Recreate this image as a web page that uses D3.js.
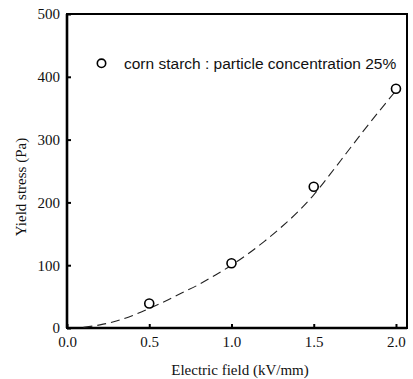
<!DOCTYPE html>
<html>
<head>
<meta charset="utf-8">
<script src="https://cdn.jsdelivr.net/npm/d3@7"></script>
<style>
  html, body { margin: 0; padding: 0; background: #fff; }
  svg { display: block; }
</style>
</head>
<body>
<svg id="chart" width="413" height="379"></svg>
<script>
// Measured yield stress of corn starch suspension (25% particles)
const fieldValues = [0.5, 1.0, 1.5, 2.0];          // kV/mm
const stressValues = [39, 103, 225, 381];          // Pa

// Fitted trend curve samples
const fitField = [0.1, 0.2, 0.3, 0.4, 0.5, 0.6, 0.7, 0.8, 0.9, 1.0, 1.1, 1.2, 1.3, 1.4, 1.5, 1.6, 1.7, 1.8, 1.9, 2.0];
const fitStress = [1, 5, 11, 20, 31, 43, 56, 69, 84, 100, 118, 138, 160, 184, 212, 245, 279, 313, 346, 378];

// Axis ticks
const xTicks = [0.0, 0.5, 1.0, 1.5, 2.0];
const yTicks = [0, 100, 200, 300, 400, 500];

const legendLabel = "corn starch : particle concentration 25%";
const xTitle = "Electric field (kV/mm)";
const yTitle = "Yield stress (Pa)";

const svg = d3.select("#chart");
const plot = { left: 67, top: 14, right: 407, bottom: 328 };

const x = d3.scaleLinear().domain([0, 2.067]).range([plot.left, plot.right]);
const y = d3.scaleLinear().domain([0, 500]).range([plot.bottom, plot.top]);

const serif = "'Liberation Serif', 'Times New Roman', serif";
const sans = "'Liberation Sans', Arial, sans-serif";

// Axes with inward ticks
const xAxis = d3.axisBottom(x).tickValues(xTicks).tickFormat(d3.format(".1f"))
  .tickSizeInner(-4).tickSizeOuter(0).tickPadding(8);
const yAxis = d3.axisLeft(y).tickValues(yTicks).tickFormat(d3.format("d"))
  .tickSizeInner(-4).tickSizeOuter(0).tickPadding(7);

const gx = svg.append("g").attr("transform", `translate(0,${plot.bottom})`).call(xAxis);
const gy = svg.append("g").attr("transform", `translate(${plot.left},0)`).call(yAxis);
[gx, gy].forEach(g => {
  g.select(".domain").remove();
  g.selectAll(".tick line").attr("stroke", "#000").attr("stroke-width", 2);
  g.selectAll(".tick text").attr("fill", "#111")
    .style("font-family", serif).style("font-size", "15px");
});

// Frame
svg.append("rect")
  .attr("x", plot.left).attr("y", plot.top)
  .attr("width", plot.right - plot.left).attr("height", plot.bottom - plot.top)
  .attr("fill", "none").attr("stroke", "#000").attr("stroke-width", 2);
svg.append("line")
  .attr("x1", plot.left).attr("x2", plot.left)
  .attr("y1", plot.top).attr("y2", plot.bottom)
  .attr("stroke", "#000").attr("stroke-width", 2.6);
svg.append("line")
  .attr("x1", plot.left).attr("x2", plot.right)
  .attr("y1", plot.bottom).attr("y2", plot.bottom)
  .attr("stroke", "#000").attr("stroke-width", 2.6);

// Fitted dashed curve
const fitPoints = fitField.map((f, i) => [f, fitStress[i]]);
const line = d3.line().x(d => x(d[0])).y(d => y(d[1])).curve(d3.curveMonotoneX);
svg.append("path")
  .datum(fitPoints)
  .attr("d", line)
  .attr("fill", "none")
  .attr("stroke", "#222")
  .attr("stroke-width", 1.1)
  .attr("stroke-dasharray", "9,5");

// Data markers
svg.append("g").selectAll("circle")
  .data(fieldValues.map((f, i) => [f, stressValues[i]]))
  .join("circle")
  .attr("cx", d => x(d[0])).attr("cy", d => y(d[1]))
  .attr("r", 4.5)
  .attr("fill", "#fff").attr("stroke", "#000").attr("stroke-width", 1.6);

// Legend
svg.append("circle")
  .attr("cx", 101.5).attr("cy", 63.3).attr("r", 4.2)
  .attr("fill", "#fff").attr("stroke", "#000").attr("stroke-width", 1.6);
svg.append("text")
  .attr("x", 124).attr("y", 69)
  .style("font-family", sans).style("font-size", "15.5px")
  .attr("fill", "#111")
  .text(legendLabel);

// Axis titles
svg.append("text")
  .attr("x", 240).attr("y", 375)
  .attr("text-anchor", "middle")
  .style("font-family", serif).style("font-size", "15px")
  .attr("fill", "#111")
  .text(xTitle);
svg.append("text")
  .attr("transform", "translate(26,187) rotate(-90)")
  .attr("text-anchor", "middle")
  .style("font-family", serif).style("font-size", "15px")
  .attr("fill", "#111")
  .text(yTitle);
</script>
</body>
</html>
